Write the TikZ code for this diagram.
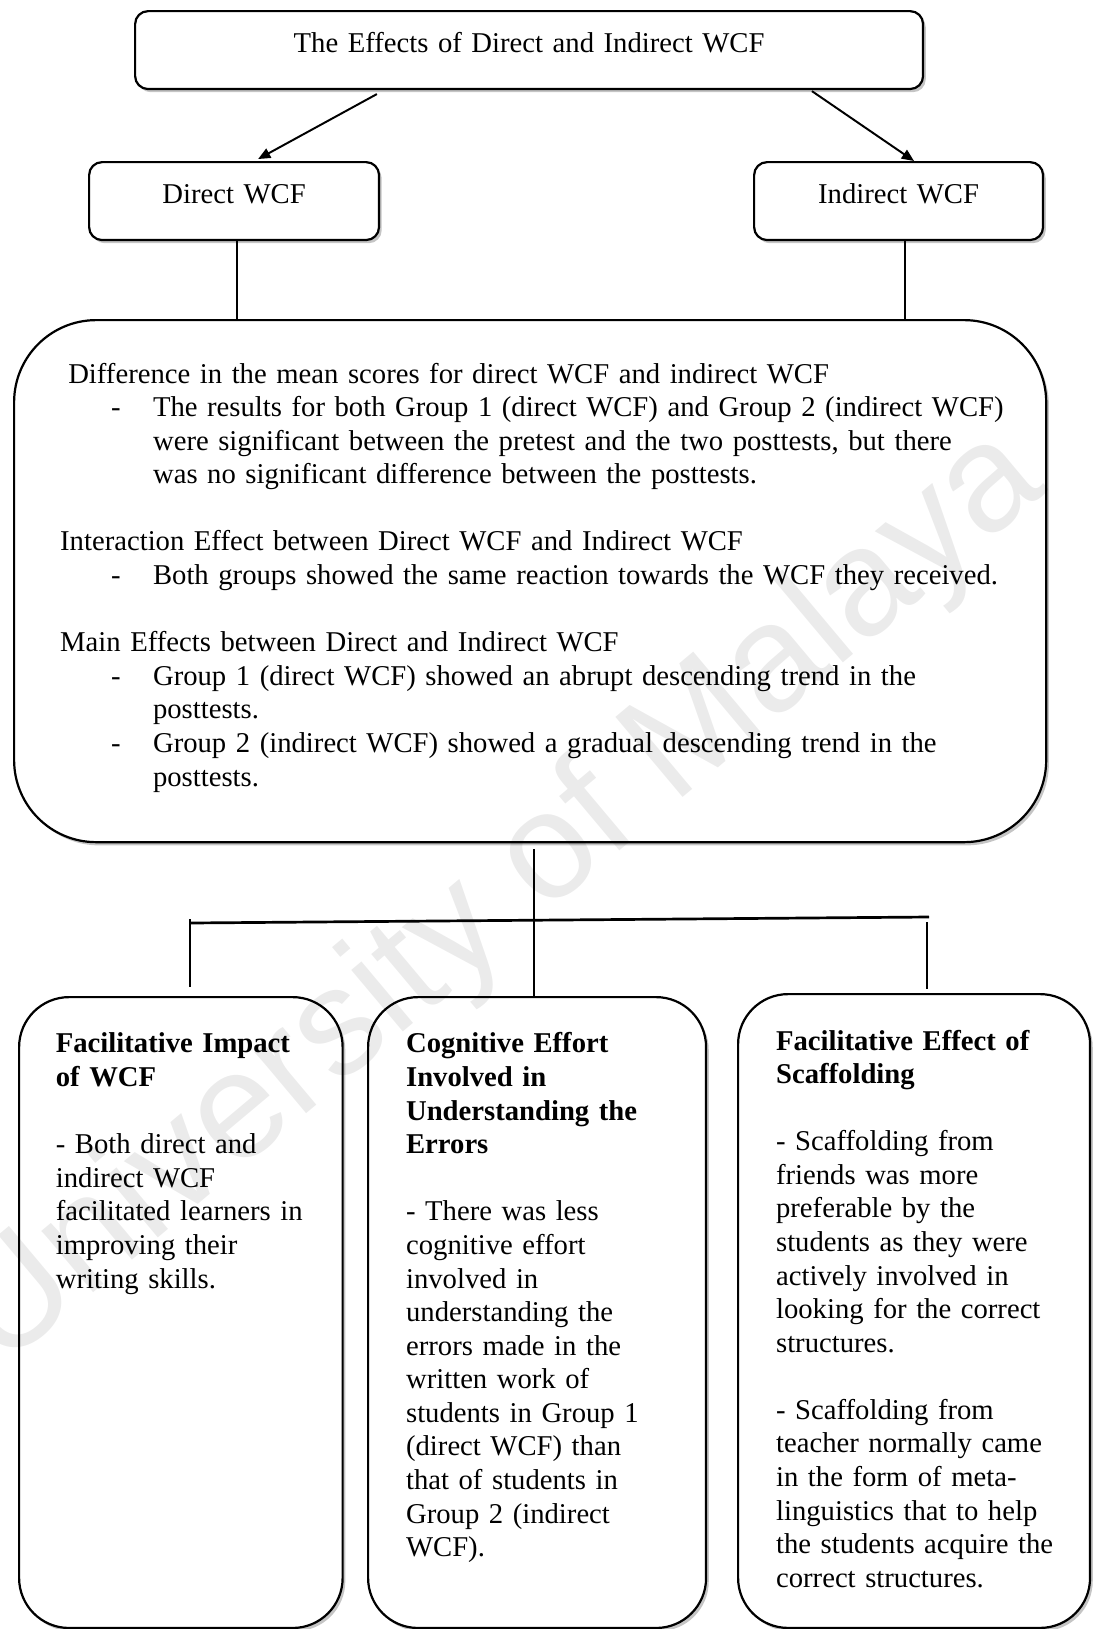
\documentclass[tikz,border=0pt]{standalone}
\usepackage{fontspec}
\setmainfont{Liberation Serif}
\newfontfamily\markfont{Liberation Sans}
\usepackage{tikz}
\usetikzlibrary{arrows.meta, shadows}
\definecolor{myblack}{gray}{0}
\definecolor{myshade}{gray}{0.35}
\newcommand{\dashitem}[1]{\hspace*{20.8pt}\makebox[17.1pt][l]{-}\mbox{#1}}
\newcommand{\hangtext}[1]{\hspace*{37.9pt}\mbox{#1}}

\begin{document}
\begin{tikzpicture}[x=0.408pt, y=-0.408pt, >={Triangle[length=5pt, width=4.2pt]},
    shadowed/.style={fill=white, drop shadow={shadow xshift=1.1pt, shadow yshift=-1.3pt, fill=myshade, opacity=0.35}},
    smallbox/.style={draw=myblack, line width=0.9pt, rounded corners=5.3pt, shadowed, anchor=north west, inner sep=0pt, align=center, font=\fontsize{11.7}{13.7}\selectfont, text height=16.9pt, text depth=14.9pt},
    bigbox/.style={draw=myblack, line width=0.9pt, rounded corners=33.5pt, shadowed, anchor=north west, inner xsep=18.8pt, inner ysep=0pt, align=left, font=\fontsize{11.7}{13.7}\selectfont},
    themebox/.style={draw=myblack, line width=0.9pt, rounded corners=20.4pt, shadowed, anchor=north west, inner xsep=15.5pt, inner ysep=0pt, align=left, font=\fontsize{11.7}{13.7}\selectfont, text height=22.8pt},
    link/.style={myblack, line width=0.8pt},
    watermark/.style={font=\markfont\fontsize{62}{62}\selectfont, text=black, text opacity=0.08, rotate=40}]
    \useasboundingbox (0,0) rectangle (1093,1629);
    \node[smallbox, text width=321.5pt] (title) at (134,10) {The Effects of Direct and Indirect WCF};
    \node[smallbox, text width=118.3pt] (direct) at (88,161) {Direct WCF};
    \node[smallbox, text width=117.9pt] (indirect) at (753,161) {Indirect WCF};
    \node[bigbox, text width=383.5pt, text height=25.7pt, text depth=187.3pt] (result) at (13,319) {\hspace*{3.3pt}\mbox{Difference in the mean scores for direct WCF and indirect WCF}\\
        \dashitem{The results for both Group 1 (direct WCF) and Group 2 (indirect WCF)}\\
        \hangtext{were significant between the pretest and the two posttests, but there}\\
        \hangtext{was no significant difference between the posttests.}\\[13.7pt]
        Interaction Effect between Direct WCF and Indirect WCF\\
        \dashitem{Both groups showed the same reaction towards the WCF they received.}\\[13.7pt]
        Main Effects between Direct and Indirect WCF\\
        \dashitem{Group 1 (direct WCF) showed an abrupt descending trend in the}\\
        \hangtext{posttests.}\\
        \dashitem{Group 2 (indirect WCF) showed a gradual descending trend in the}\\
        \hangtext{posttests.}};
    \node[themebox, inner xsep=15pt, text width=102pt, text depth=234.6pt] (impact) at (18,996) {\textbf{Facilitative Impact}\\\textbf{of WCF}\\[13.7pt]
        - Both direct and\\indirect WCF\\\mbox{facilitated learners in}\\improving their\\writing skills.};
    \node[themebox, text width=106.9pt, text depth=234.6pt] (effort) at (367,996) {\textbf{Cognitive Effort}\\\textbf{Involved in}\\\textbf{Understanding the}\\\textbf{Errors}\\[13.7pt]
        - There was less\\cognitive effort\\involved in\\understanding the\\errors made in the\\written work of\\\mbox{students in Group 1}\\(direct WCF) than\\that of students in\\Group 2 (indirect\\WCF).};
    \node[themebox, text width=112.6pt, text depth=235.8pt] (scaffold) at (737,993) {\textbf{Facilitative Effect of}\\\textbf{Scaffolding}\\[13.7pt]
        - Scaffolding from\\friends was more\\preferable by the\\\mbox{students as they were}\\actively involved in\\\mbox{looking for the correct}\\structures.\\[13.7pt]
        - Scaffolding from\\\mbox{teacher normally came}\\in the form of meta-\\\mbox{linguistics that to help}\\\mbox{the students acquire the}\\correct structures.};
    \draw[link, ->] ([xshift=99.1pt, yshift=-1.6pt]title.south west) -- ([xshift=9.8pt, yshift=0.8pt]direct.north);
    \draw[link, ->] ([xshift=276.6pt, yshift=-0.4pt]title.south west) -- ([xshift=6.3pt]indirect.north);
    \draw[link] ([xshift=1.2pt]direct.south) -- ([xshift=1.2pt]direct.south |- result.north);
    \draw[link] ([xshift=2.7pt]indirect.south) -- ([xshift=2.7pt]indirect.south |- result.north);
    \coordinate (hubtop) at (534,849);
    \coordinate (hubleft) at (190,923);
    \coordinate (hubright) at (929,917);
    \coordinate (dropleft) at (190,919);
    \coordinate (dropright) at (927,922);
    \draw[link] (hubtop) -- (hubtop |- effort.north);
    \draw[link, line width=1.1pt] (hubleft) -- (hubright);
    \draw[link] (dropleft) -- ([yshift=3.7pt]dropleft |- impact.north);
    \draw[link] (dropright) -- ([yshift=1.6pt]dropright |- scaffold.north);
    \node[watermark] (mark) at (500,900) {University of Malaya};
\end{tikzpicture}
\end{document}
